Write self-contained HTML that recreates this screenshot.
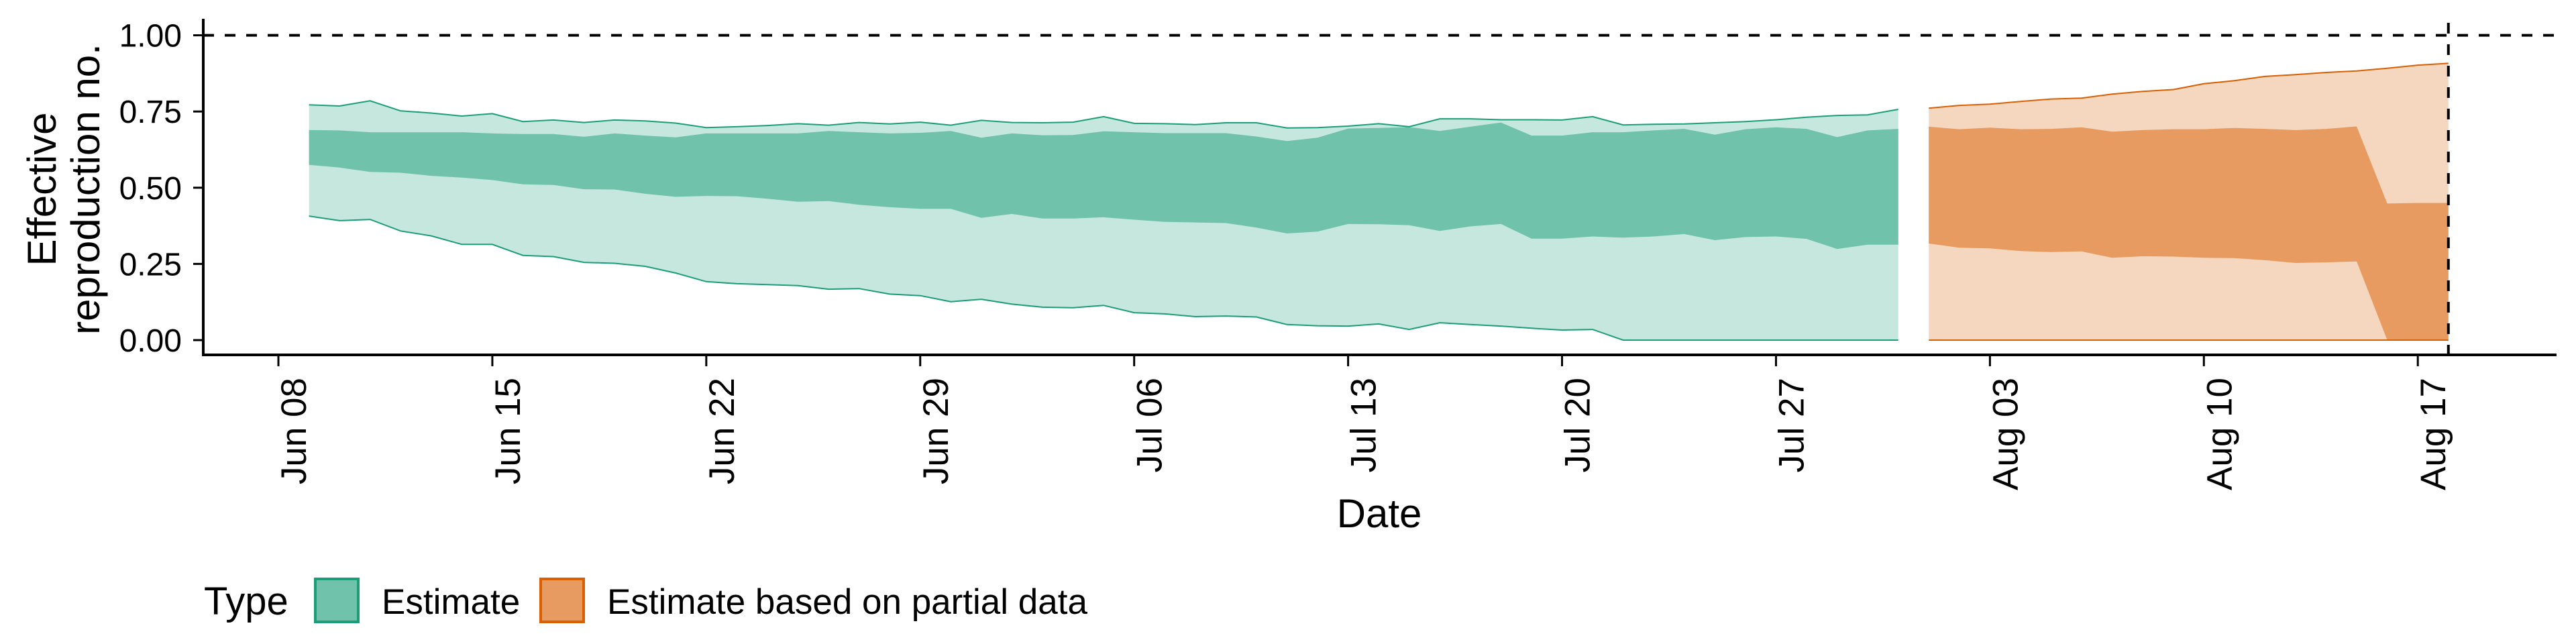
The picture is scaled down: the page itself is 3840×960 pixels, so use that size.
<!DOCTYPE html>
<html><head><meta charset="utf-8"><style>
html,body{margin:0;padding:0;background:#fff;}
svg{display:block;font-family:"Liberation Sans",Arial,sans-serif;}
</style></head><body>
<svg id="chart" width="3840" height="960" viewBox="0 0 3840 960" xmlns="http://www.w3.org/2000/svg">
<g id="bands"></g>
<g id="axes"></g>
<text transform="translate(83,282) rotate(-90)" text-anchor="middle" font-size="60">Effective</text>
<text transform="translate(148,282) rotate(-90)" text-anchor="middle" font-size="60">reproduction no.</text>
<text x="2056" y="786" text-anchor="middle" font-size="60">Date</text>
<g>
<text x="304" y="916" font-size="58">Type</text>
<rect x="470" y="863" width="64" height="64" fill="#70C2AA" stroke="#1B9E77" stroke-width="4"/>
<text x="569" y="915" font-size="53">Estimate</text>
<rect x="806" y="863" width="64" height="64" fill="#E79B61" stroke="#D95F02" stroke-width="4"/>
<text x="905" y="915" font-size="53">Estimate based on partial data</text>
</g>
</svg>
<script>
// Days since Jun 08
const estDays = [1,2,3,4,5,6,7,8,9,10,11,12,13,14,15,16,17,18,19,20,21,22,23,24,25,26,27,28,29,30,31,32,33,34,35,36,37,38,39,40,41,42,43,44,45,46,47,48,49,50,51,52,53];
const estUpper90 = [0.772,0.768,0.785,0.752,0.745,0.735,0.743,0.717,0.722,0.714,0.722,0.719,0.712,0.697,0.700,0.704,0.710,0.705,0.714,0.709,0.715,0.705,0.721,0.714,0.713,0.715,0.733,0.711,0.710,0.707,0.713,0.713,0.696,0.697,0.702,0.710,0.700,0.726,0.726,0.723,0.723,0.722,0.733,0.706,0.708,0.709,0.713,0.717,0.723,0.731,0.737,0.739,0.757];
const estUpper50 = [0.689,0.688,0.682,0.682,0.682,0.682,0.678,0.676,0.676,0.667,0.678,0.671,0.665,0.678,0.678,0.678,0.678,0.686,0.682,0.678,0.680,0.686,0.664,0.678,0.672,0.673,0.685,0.682,0.679,0.679,0.679,0.668,0.653,0.664,0.694,0.696,0.699,0.686,0.700,0.714,0.671,0.671,0.682,0.682,0.688,0.693,0.674,0.692,0.698,0.693,0.666,0.688,0.693];
const estLower50 = [0.575,0.566,0.552,0.549,0.539,0.533,0.525,0.511,0.509,0.495,0.494,0.480,0.470,0.473,0.472,0.464,0.454,0.456,0.444,0.436,0.431,0.431,0.401,0.414,0.399,0.399,0.403,0.395,0.388,0.386,0.384,0.369,0.350,0.356,0.381,0.380,0.377,0.358,0.373,0.381,0.333,0.333,0.340,0.336,0.340,0.348,0.328,0.338,0.340,0.332,0.299,0.313,0.313];
const estLower90 = [0.407,0.392,0.396,0.358,0.342,0.314,0.314,0.278,0.274,0.255,0.252,0.242,0.220,0.192,0.185,0.182,0.179,0.167,0.169,0.151,0.146,0.126,0.134,0.118,0.108,0.106,0.114,0.090,0.086,0.077,0.079,0.076,0.051,0.047,0.046,0.053,0.035,0.057,0.051,0.046,0.039,0.033,0.035,0,0,0,0,0,0,0,0,0,0];
const partDays = [54,55,56,57,58,59,60,61,62,63,64,65,66,67,68,69,70,71];
const partUpper90 = [0.761,0.770,0.774,0.783,0.791,0.794,0.807,0.816,0.822,0.841,0.851,0.865,0.871,0.878,0.883,0.892,0.902,0.908];
const partUpper50 = [0.700,0.692,0.697,0.692,0.693,0.698,0.684,0.689,0.692,0.692,0.696,0.693,0.689,0.693,0.701,0.448,0.450,0.450];
const partLower50 = [0.317,0.303,0.301,0.292,0.289,0.291,0.270,0.275,0.274,0.270,0.269,0.262,0.253,0.255,0.258,0,0,0];
const partLower90 = [0,0,0,0,0,0,0,0,0,0,0,0,0,0,0,0,0,0];
const xTickDays = [0,7,14,21,28,35,42,49,56,63,70];
const xTickLabels = ["Jun 08","Jun 15","Jun 22","Jun 29","Jul 06","Jul 13","Jul 20","Jul 27","Aug 03","Aug 10","Aug 17"];
const yTickValues = [0,0.25,0.5,0.75,1];
const yTickLabels = ["0.00","0.25","0.50","0.75","1.00"];
const refLineValue = 1;
const cutoffDay = 71;

const NS = "http://www.w3.org/2000/svg";
const X0 = 415, DAY = 45.56, Y0 = 507, YS = 454.4;
function xs(d){return X0 + DAY*d;}
function ys(v){return Y0 - YS*v;}
function mk(tag, attrs, parent){
  const el = document.createElementNS(NS, tag);
  for (const k in attrs) el.setAttribute(k, attrs[k]);
  parent.appendChild(el);
  return el;
}
function areaPath(days, hi, lo){
  let p = "";
  days.forEach((d,i)=>{p += (i?"L":"M") + xs(d).toFixed(1) + "," + ys(hi[i]).toFixed(1);});
  for (let i = days.length-1; i >= 0; i--) p += "L" + xs(days[i]).toFixed(1) + "," + ys(lo[i]).toFixed(1);
  return p + "Z";
}
function linePath(days, vals){
  return days.map((d,i)=>(i?"L":"M") + xs(d).toFixed(1) + "," + ys(vals[i]).toFixed(1)).join("");
}
const bands = document.getElementById("bands");
const axes = document.getElementById("axes");

function drawSeries(days, u90, u50, l50, l90, light, mid, line, name){
  const a = mk("path", {d: areaPath(days, u90, l90), fill: light}, bands);
  
  
  const b = mk("path", {d: areaPath(days, u50, l50), fill: mid}, bands);
  
  
  const c = mk("path", {d: linePath(days, u90), fill: "none", stroke: line, "stroke-width": 2}, bands);
  
  
  const e = mk("path", {d: linePath(days, l90), fill: "none", stroke: line, "stroke-width": 2}, bands);
  
  
}
drawSeries(estDays, estUpper90, estUpper50, estLower50, estLower90, "#C6E7DD", "#70C2AA", "#1B9E77", "estimate");
drawSeries(partDays, partUpper90, partUpper50, partLower50, partLower90, "#F5D7C0", "#E79B61", "#D95F02", "partial");

// reference lines
const h = mk("line", {x1: 303, x2: 3811, y1: ys(refLineValue), y2: ys(refLineValue), stroke: "#000", "stroke-width": 4, "stroke-dasharray": "16 16"}, axes);


const v = mk("line", {x1: xs(cutoffDay), x2: xs(cutoffDay), y1: 34, y2: 529, stroke: "#000", "stroke-width": 4, "stroke-dasharray": "16 16"}, axes);



// axes lines
const ya = mk("line", {x1: 303, x2: 303, y1: 28, y2: 531, stroke: "#000", "stroke-width": 4}, axes);


const xa = mk("line", {x1: 301, x2: 3811, y1: 529, y2: 529, stroke: "#000", "stroke-width": 4}, axes);



yTickValues.forEach((val,i)=>{
  const t = mk("line", {x1: 288, x2: 303, y1: ys(val), y2: ys(val), stroke: "#000", "stroke-width": 3}, axes);
  
  
  const l = mk("text", {x: 271, y: ys(val) + 17, "text-anchor": "end", "font-size": 48, fill: "#000"}, axes);
  
  
  l.textContent = yTickLabels[i];
});
xTickDays.forEach((d,i)=>{
  const x = xs(d);
  const t = mk("line", {x1: x, x2: x, y1: 531, y2: 546, stroke: "#000", "stroke-width": 3}, axes);
  
  
  const l = mk("text", {transform: "translate(" + (x + 41).toFixed(1) + ",563) rotate(-90)", "text-anchor": "end", "font-size": 53, fill: "#000"}, axes);
  
  
  l.textContent = xTickLabels[i];
});
</script>
</body></html>
